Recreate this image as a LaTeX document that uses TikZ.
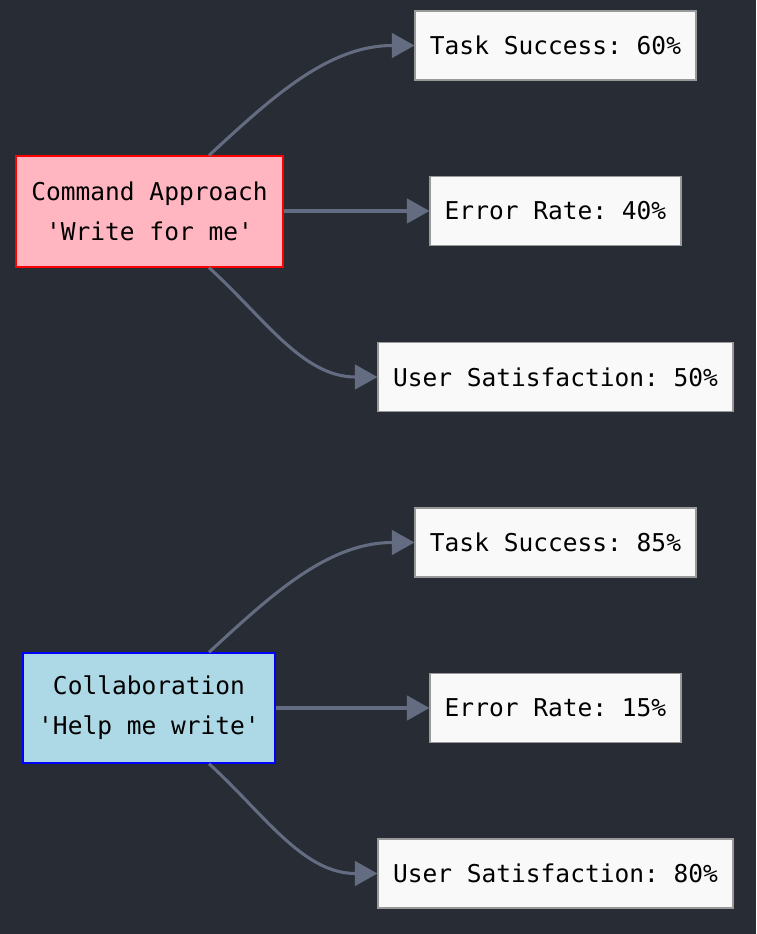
\documentclass[tikz,border=0pt]{standalone}
\usepackage{fontspec}
\setmonofont{DejaVu Sans Mono}
\usetikzlibrary{arrows.meta,calc}

\definecolor{bgdark}{HTML}{282C34}
\definecolor{linkgray}{HTML}{646C82}
\definecolor{cmdfill}{HTML}{FFB6C1}
\definecolor{colfill}{HTML}{ADD8E6}
\definecolor{outfill}{HTML}{F9F9F9}
\definecolor{outdraw}{HTML}{999999}

\tikzset{
  every node/.style={font=\ttfamily\fontsize{18.4}{30}\selectfont, text=black, inner sep=0pt, align=center},
  cmdbox/.style={fill=cmdfill, draw=red, line width=1.1pt, minimum width=200pt, minimum height=83pt},
  colbox/.style={fill=colfill, draw=blue, line width=1.1pt, minimum width=189pt, minimum height=82.5pt},
  outbox/.style={fill=outfill, draw=outdraw, line width=1.1pt, minimum height=51.5pt},
  link/.style={draw=linkgray, line width=2.3pt, -{Triangle[length=17pt,width=18.5pt]}},
}

\begin{document}
\begin{tikzpicture}[x=0.75pt,y=-0.75pt]

  \fill[bgdark] (0,0) rectangle (756,934);
  \useasboundingbox (0,0) rectangle (756,934);

  % first approach
  \node[cmdbox] (cmd) at (149.5,211.5) {Command Approach\\'Write for me'};
  \node[outbox, minimum width=210.5pt] (t1) at (555.5,45.5) {Task Success: 60\%};
  \node[outbox, minimum width=188pt] (e1) at (555.5,211) {Error Rate: 40\%};
  \node[outbox, minimum width=266pt] (u1) at (555.5,377) {User Satisfaction: 50\%};

  % second approach
  \node[colbox] (col) at (149,708) {Collaboration\\'Help me write'};
  \node[outbox, minimum width=210.5pt] (t2) at (555.5,542.5) {Task Success: 85\%};
  \node[outbox, minimum width=188pt] (e2) at (555.5,708) {Error Rate: 15\%};
  \node[outbox, minimum width=266pt] (u2) at (555.5,873.5) {User Satisfaction: 80\%};

  \draw[link] ([xshift=44.6pt]cmd.north) .. controls +(60,-55) and +(-88,0) .. (t1.west);
  \draw[link] (cmd.east |- e1.west) -- (e1.west);
  \draw[link] ([xshift=44.6pt]cmd.south) .. controls +(55,50) and +(-75,0) .. (u1.west);

  \draw[link] ([xshift=45pt]col.north) .. controls +(60,-55) and +(-88,0) .. (t2.west);
  \draw[link] (col.east |- e2.west) -- (e2.west);
  \draw[link] ([xshift=45pt]col.south) .. controls +(55,50) and +(-75,0) .. (u2.west);

\end{tikzpicture}
\end{document}
